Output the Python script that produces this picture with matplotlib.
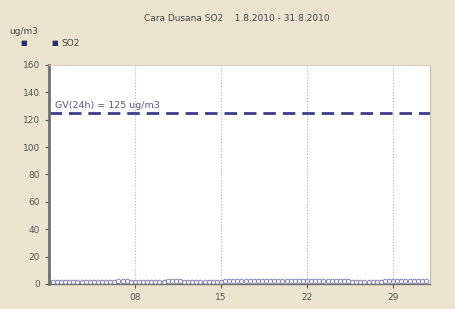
import numpy as np
import matplotlib.pyplot as plt

# podaci: SO2, 8-satne vrijednosti, 1.8.2010 - 31.8.2010
so2 = [1.2, 1.4, 1.3, 1.5, 1.6, 1.4, 1.3, 1.5, 1.7, 1.6, 1.4, 1.5,
       1.6, 1.8, 1.7, 1.5, 1.6, 1.9, 2.3, 2.1, 1.8, 1.6, 1.5, 1.7,
       1.6, 1.5, 1.7, 1.8, 1.6, 1.9, 2.2, 2.4, 2.0, 1.7, 1.6, 1.5,
       1.4, 1.5, 1.6, 1.5, 1.7, 1.8, 1.6, 1.9, 2.2, 2.3, 2.1, 2.4,
       2.2, 2.0, 2.3, 2.5, 2.1, 2.4, 2.2, 2.0, 2.3, 2.1, 2.4, 2.2,
       2.5, 2.3, 2.1, 2.4, 2.2, 2.0, 2.3, 2.5, 2.2, 2.1, 1.9, 2.3,
       2.4, 2.1, 1.8, 1.6, 1.7, 1.5, 1.6, 1.8, 1.7, 1.6, 1.9, 2.2,
       2.4, 2.1, 2.3, 2.5, 2.2, 2.4, 2.3, 2.1, 2.4]
days = 1 + np.arange(len(so2)) / 3.0

gv = 125
gv_label = "GV(24h) = 125 ug/m3"
xticks = [8, 15, 22, 29]
xticklabels = ["08", "15", "22", "29"]
yticks = list(range(0, 161, 20))

bg = "#ede4d0"
fig = plt.figure(figsize=(4.56, 3.09), dpi=100, facecolor=bg)
ax = fig.add_axes([0.107, 0.081, 0.836, 0.709])
ax.set_facecolor("white")

# granicna vrijednost
ax.axhline(gv, color="#3c3c8c", lw=2, ls=(0, (4.5, 2.5)))
ax.text(1.5, gv + 2, gv_label, color="#5a5a8a", fontsize=6.8, va="bottom")

# mjerenja
ax.plot(days, so2, ls="none", marker="o", ms=3.2, mfc="none",
        mec="#8c8cbc", mew=0.8)

ax.set_xlim(1, 32)
ax.set_ylim(0, 160)
ax.set_xticks(xticks)
ax.set_xticklabels(xticklabels)
ax.set_yticks(yticks)
ax.tick_params(labelsize=6.5, colors="#555555", length=3, width=0.8)
ax.xaxis.grid(True, ls=":", color="#b4b4b4", lw=0.8)

ax.spines["left"].set_color("#707070")
ax.spines["left"].set_linewidth(2)
ax.spines["bottom"].set_color("#707070")
ax.spines["bottom"].set_linewidth(1)
ax.spines["top"].set_color("#d8d0bc")
ax.spines["right"].set_color("#c8bea8")

fig.text(0.52, 0.933, "Cara Dusana SO2    1.8.2010 - 31.8.2010",
         ha="center", fontsize=6.5, color="#444444")
fig.text(0.02, 0.89, "ug/m3", fontsize=6.5, color="#444444")
fig.text(0.045, 0.855, "\u25a0", fontsize=5, color="#2a2a70")
fig.text(0.112, 0.855, "\u25a0", fontsize=5, color="#2a2a70")
fig.text(0.135, 0.852, "SO2", fontsize=6.5, color="#444444")

fig.savefig("out.png", dpi=100, facecolor=bg)
